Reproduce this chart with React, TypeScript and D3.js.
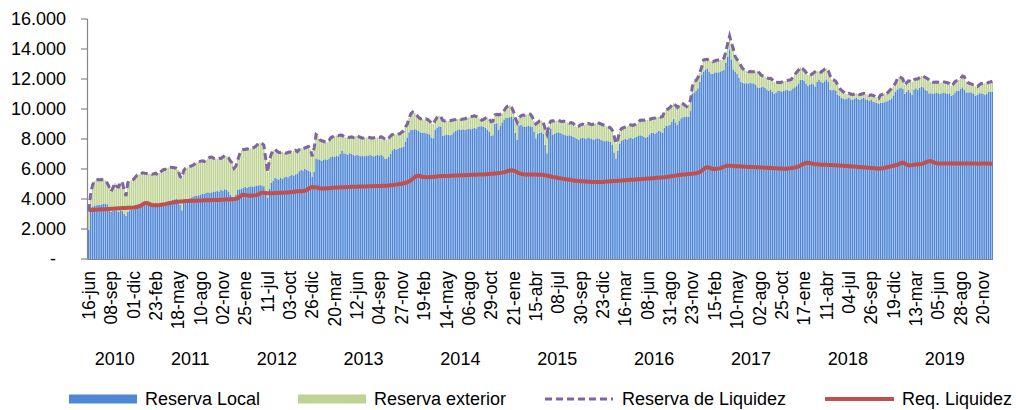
import React from "react";
import * as d3 from "d3";

// weekly series, jun-2010 .. dec-2019 (millions)
const reservaLiquidez = [
  // 2010
  3200, 4300, 4900, 5200, 5250, 5300, 5280, 5300, 5270, 5250, 5050, 4800, 4500, 4750, 5050, 4850, 4800, 5100, 5150, 4600, 4200, 5100, 5200, 5250, 5300, 5450, 5600, 5650, 5700,
  // 2011
  5750, 5720, 5700, 5680, 5700, 5650, 5680, 5720, 5600, 5750, 5850, 5950, 5980, 6080, 6100, 6120, 6100, 6080, 6050, 5950,
  5500, 5400, 5900, 6050, 6100, 6150, 6200, 6250, 6350, 6450, 6500, 6520, 6550, 6500, 6600, 6700, 6780, 6800, 6720, 6700,
  6680, 6720, 6700, 6800, 6900, 6850, 6750, 6550, 6400, 6050, 6200, 6600,
  // 2012
  7000, 7250, 7300, 7300, 7350, 7300, 7350, 7400, 7450, 7550, 7700, 7750, 7700, 7600, 6700, 5800, 6600, 7000, 7250, 7300,
  7200, 7100, 7100, 7150, 7100, 7050, 7100, 7150, 7100, 7200, 7250, 7150, 7300, 7400, 7350, 7400, 7450, 7500, 7300, 6850, 7400,
  // 2013
  8300, 8200, 7950, 7880, 7850, 7800, 7780, 7900, 8100, 8150, 8200, 8250, 8220, 8270, 8250, 8150, 8100, 8120, 8100, 8150,
  8100, 8200, 8220, 8150, 8100, 8050, 8080, 8100, 8120, 8100, 8050, 8080, 8100, 8120, 8100, 8150, 8080, 8000, 7950, 8050,
  8200, 8300, 8330, 8300, 8330, 8350, 8450, 8550, 8800, 9000, 9400, 9700,
  // 2014
  9800, 9750, 9600, 9450, 9350, 9330, 9300, 9350, 9300, 9200, 9050, 9000, 9250, 9450, 9550, 9500, 9250, 9200, 9230, 9200,
  9220, 9250, 9280, 9300, 9330, 9350, 9300, 9330, 9350, 9400, 9450, 9500, 9520, 9550, 9500, 9450, 9350, 9250, 9300, 9400,
  9450, 9350, 9150, 9200, 9600, 9650, 9600, 9650, 9700, 9900, 10100, 10200,
  // 2015
  10250, 10100, 9850, 9400, 9100, 9400, 9550, 9600, 9580, 9620, 9650, 9660, 9500, 9200, 9000, 9100, 9200, 9220, 9100, 8700,
  8350, 8900, 9200, 9220, 9200, 9220, 9250, 9200, 9150, 9200, 9150, 9100, 9050, 9100, 9050, 8900, 8800, 8850, 8950, 9000,
  8950, 9000, 9050, 9000, 8950, 9000, 9050, 9100, 9050, 9000, 8950, 8900,
  // 2016
  8850, 8800, 8750, 8600, 8200, 7700, 8000, 8500, 8700, 8750, 8800, 8850, 8900, 8950, 8900, 8950, 9000, 9100, 9250, 9270,
  9250, 9270, 9280, 9300, 9350, 9380, 9400, 9450, 9480, 9450, 9500, 9800, 9950, 10000, 10100, 10250, 10380, 10250, 10100, 10250,
  10380, 10350, 10250, 10160, 10300, 10600, 11500, 11850, 11900, 12100, 12400, 12800,
  // 2017
  13270, 13300, 13310, 13250, 13200, 13150, 13200, 13250, 13270, 13280, 13270, 13400, 13820, 14380, 14870, 14400, 14000, 13500, 13300, 13150,
  12900, 12700, 12600, 12550, 12490, 12500, 12480, 12490, 12500, 12550, 12400, 12250, 12200, 12150, 12080, 12040, 12050, 11950, 11800, 11760,
  11780, 11760, 11800, 11850, 11870, 11900, 11930, 11950, 12150, 12300, 12450, 12600,
  // 2018
  12780, 12700, 12600, 12450, 12270, 12250, 12300, 12400, 12490, 12550, 12500, 12450, 12550, 12650, 12710, 12550, 12200, 11950, 11930, 11850,
  11600, 11380, 11250, 11150, 11050, 11000, 11050, 11000, 10950, 11000, 11050, 11000, 10950, 11000, 11050, 11000, 10950, 10900, 10950, 10900,
  10850, 10750, 10700, 10930, 10980, 11050, 11000, 11100, 11250, 11380, 11550, 11710,
  // 2019
  12000, 12160, 12100, 12000, 11600, 11750, 11880, 11850, 11800, 11950, 12000, 12000, 12100, 12200, 12200, 12100, 12050, 11950, 11800, 11780,
  11780, 11800, 11780, 11750, 11780, 11800, 11780, 11750, 11700, 11550, 11650, 11820, 11900, 11940, 12050, 12200, 12150, 11850, 11750, 11700,
  11660, 11600, 11500, 11490, 11600, 11700, 11700, 11720, 11700, 11780, 11800, 11850,
];

const reservaLocal = [
  // 2010
  1950, 3450, 3500, 3550, 3580, 3600, 3620, 3650, 3680, 3700, 3650, 3300, 3150, 3200, 3250, 3200, 3150, 3250, 3200, 3000, 2880, 3150, 3250, 3300, 3300, 3350, 3400, 3450, 3500,
  // 2011
  3550, 3600, 3650, 3700, 3700, 3680, 3720, 3750, 3700, 3720, 3650, 3700, 3720, 3800, 3850, 3900, 3950, 3980, 4000, 3900,
  3600, 3250, 3850, 3900, 4000, 4050, 4100, 4150, 4200, 4200, 4250, 4300, 4350, 4350, 4400, 4450, 4400, 4450, 4500, 4500,
  4550, 4500, 4600, 4550, 4650, 4600, 4500, 4300, 4150, 4050, 4300, 4600,
  // 2012
  4650, 4700, 4750, 4800, 4750, 4800, 4850, 4800, 4850, 4900, 4900, 4950, 4900, 4850, 4400, 4100, 4700, 5100, 5200, 5400,
  5350, 5300, 5400, 5350, 5450, 5500, 5450, 5550, 5600, 5550, 5650, 5700, 5850, 5950, 5900, 6000, 5950, 5900, 5800, 5500, 5800,
  // 2013
  6700, 6650, 6600, 6550, 6600, 6650, 6600, 6700, 6800, 6850, 6800, 6900, 6850, 7000, 7200, 7050, 7000, 6950, 7050, 7000,
  6950, 6900, 6950, 6900, 6850, 6900, 6850, 6900, 6880, 6950, 6900, 6850, 6900, 6950, 6900, 6950, 6850, 6700, 6700, 6800,
  7000, 7250, 7350, 7300, 7350, 7400, 7450, 7500, 7800, 8100, 8450, 8600,
  // 2014
  8600, 8650, 8600, 8550, 8450, 8400, 8400, 8380, 8350, 8300, 8100, 8050, 8600, 8750, 8850, 8800, 8200, 8250, 8300, 8280,
  8250, 8300, 8450, 8550, 8600, 8650, 8600, 8650, 8600, 8650, 8700, 8650, 8700, 8750, 8700, 8800, 8850, 8850, 8800, 8750,
  8600, 8500, 8200, 8250, 9000, 9050, 8600, 8900, 9100, 9300, 9400, 9400,
  // 2015
  9450, 9500, 9350, 8400, 7950, 8900, 8950, 8850, 8800, 8850, 8900, 8850, 8800, 8500, 8050, 8350, 8400, 8450, 8350, 7600,
  7050, 8500, 8700, 8300, 8350, 8400, 8450, 8400, 8350, 8300, 8250, 8200, 8250, 8200, 8150, 8100, 8000, 7950, 8050, 8100,
  8050, 8000, 8100, 8050, 8000, 7950, 8000, 8050, 8000, 7950, 7900, 7850,
  // 2016
  7900, 7850, 7800, 7600, 7100, 6700, 7200, 7700, 7900, 7950, 8000, 7950, 8050, 8100, 8000, 8100, 8150, 8200, 8250, 8200,
  8150, 8100, 8150, 8300, 8400, 8420, 8350, 8450, 8550, 8500, 8420, 8750, 8870, 8900, 8930, 9150, 9330, 9100, 8930, 9200,
  9380, 9450, 9490, 9500, 9480, 9900, 11000, 11100, 11200, 11380, 11800, 12300,
  // 2017
  12490, 12600, 12710, 12500, 12330, 12350, 12440, 12450, 12440, 12500, 12550, 12600, 13100, 13500, 13980, 13300, 12640, 12500, 12330, 12100,
  11820, 11750, 11710, 11720, 11700, 11750, 11720, 11710, 11600, 11450, 11420, 11450, 11490, 11400, 11300, 11220, 11300, 11150, 11000, 11100,
  11220, 11200, 11150, 11200, 11250, 11280, 11200, 11250, 11380, 11450, 11530, 11700,
  // 2018
  11930, 11950, 11900, 11700, 11530, 11600, 11700, 11650, 11500, 11800, 11930, 11800, 11750, 11850, 11980, 11800, 11270, 11250, 11300, 11200,
  10950, 10870, 10750, 10700, 10650, 10700, 10750, 10650, 10600, 10700, 10750, 10650, 10600, 10700, 10750, 10650, 10600, 10550, 10600, 10500,
  10450, 10400, 10350, 10420, 10420, 10450, 10500, 10530, 10600, 10710, 10900, 11150,
  // 2019
  11300, 11380, 11400, 11350, 11000, 11150, 11270, 11100, 10930, 11300, 11380, 11300, 11400, 11490, 11450, 11300, 11200, 11050, 11050, 11000,
  11050, 11100, 11050, 11000, 11050, 11100, 11050, 11000, 11050, 10870, 10950, 11100, 11200, 11220, 11350, 11450, 11300, 11110, 11100, 11120,
  11100, 11000, 10870, 10950, 11050, 11050, 11000, 10930, 11000, 11150, 11160, 11150,
];

const reqLiquidez = [
  // 2010
  3250, 3260, 3270, 3280, 3290, 3300, 3300, 3310, 3320, 3320, 3330, 3340, 3350, 3350, 3360, 3370, 3380, 3390, 3400, 3400, 3400, 3410, 3420, 3420, 3430, 3450, 3480, 3520, 3560,
  // 2011
  3650, 3720, 3740, 3700, 3640, 3600, 3580, 3580, 3590, 3600, 3620, 3640, 3660, 3690, 3720, 3740, 3760, 3780, 3800, 3820,
  3830, 3840, 3850, 3860, 3860, 3870, 3880, 3880, 3890, 3890, 3900, 3900, 3900, 3910, 3910, 3920, 3920, 3930, 3930, 3930,
  3940, 3940, 3950, 3950, 3960, 3960, 3970, 3980, 3990, 4000, 4020, 4050,
  // 2012
  4150, 4250, 4280, 4260, 4240, 4220, 4220, 4230, 4240, 4260, 4300, 4380, 4420, 4410, 4400, 4390, 4380, 4380, 4390, 4400,
  4400, 4410, 4410, 4420, 4420, 4430, 4440, 4450, 4460, 4480, 4500, 4510, 4520, 4520, 4530, 4550, 4600, 4680, 4760, 4800, 4780,
  // 2013
  4780, 4750, 4720, 4700, 4700, 4700, 4710, 4720, 4740, 4750, 4760, 4760, 4770, 4780, 4780, 4790, 4790, 4800, 4800, 4810,
  4810, 4820, 4820, 4830, 4830, 4830, 4840, 4840, 4850, 4850, 4850, 4860, 4860, 4860, 4870, 4870, 4880, 4880, 4890, 4900,
  4910, 4920, 4940, 4960, 4980, 5000, 5020, 5050, 5080, 5120, 5180, 5260,
  // 2014
  5350, 5450, 5530, 5550, 5520, 5480, 5460, 5450, 5450, 5460, 5470, 5480, 5490, 5500, 5510, 5520, 5530, 5530, 5540, 5540,
  5550, 5550, 5560, 5560, 5570, 5580, 5580, 5590, 5590, 5600, 5600, 5610, 5610, 5620, 5620, 5630, 5630, 5640, 5640, 5650,
  5660, 5670, 5680, 5690, 5700, 5710, 5720, 5740, 5760, 5790, 5830, 5870,
  // 2015
  5900, 5920, 5900, 5850, 5780, 5720, 5680, 5650, 5640, 5630, 5630, 5630, 5640, 5640, 5630, 5620, 5620, 5610, 5600, 5580,
  5560, 5530, 5500, 5470, 5450, 5430, 5400, 5380, 5360, 5340, 5320, 5300, 5280, 5260, 5240, 5220, 5210, 5200, 5190, 5180,
  5170, 5160, 5150, 5150, 5140, 5140, 5130, 5130, 5130, 5130, 5140, 5150,
  // 2016
  5160, 5170, 5180, 5190, 5200, 5200, 5210, 5220, 5230, 5240, 5250, 5260, 5270, 5280, 5290, 5300, 5300, 5310, 5320, 5330,
  5340, 5350, 5360, 5370, 5380, 5390, 5400, 5410, 5420, 5430, 5440, 5450, 5460, 5480, 5500, 5520, 5540, 5560, 5580, 5600,
  5620, 5630, 5640, 5650, 5660, 5670, 5680, 5700, 5720, 5750, 5800, 5880,
  // 2017
  5980, 6080, 6120, 6100, 6040, 6000, 6000, 6010, 6030, 6060, 6100, 6150, 6200, 6220, 6220, 6210, 6200, 6190, 6180, 6180,
  6170, 6160, 6150, 6150, 6140, 6140, 6130, 6130, 6120, 6120, 6110, 6100, 6100, 6090, 6080, 6070, 6060, 6060, 6050, 6050,
  6040, 6030, 6030, 6020, 6020, 6030, 6040, 6060, 6080, 6100, 6130, 6170,
  // 2018
  6230, 6300, 6360, 6400, 6420, 6400, 6370, 6340, 6320, 6310, 6300, 6290, 6290, 6280, 6280, 6270, 6270, 6260, 6250, 6250,
  6240, 6230, 6220, 6210, 6200, 6200, 6190, 6180, 6170, 6160, 6150, 6140, 6130, 6120, 6110, 6100, 6090, 6080, 6070, 6060,
  6050, 6040, 6040, 6040, 6050, 6070, 6100, 6130, 6160, 6190, 6220, 6250,
  // 2019
  6280, 6330, 6400, 6420, 6380, 6300, 6250, 6240, 6260, 6280, 6300, 6310, 6320, 6340, 6370, 6420, 6470, 6520, 6530, 6480,
  6420, 6390, 6370, 6360, 6360, 6360, 6360, 6370, 6370, 6370, 6360, 6360, 6360, 6370, 6370, 6360, 6360, 6360, 6360, 6370,
  6370, 6360, 6360, 6350, 6350, 6360, 6360, 6370, 6360, 6360, 6350, 6350,
];

// one label every 12 weeks
const tickLabels = [
  "16-jun", "08-sep", "01-dic", "23-feb", "18-may", "10-ago", "02-nov", "25-ene", "11-jul", "03-oct",
  "26-dic", "20-mar", "12-jun", "04-sep", "27-nov", "19-feb", "14-may", "06-ago", "29-oct", "21-ene",
  "15-abr", "08-jul", "30-sep", "23-dic", "16-mar", "08-jun", "31-ago", "23-nov", "15-feb", "10-may",
  "02-ago", "25-oct", "17-ene", "11-abr", "04-jul", "26-sep", "19-dic", "13-mar", "05-jun", "28-ago",
  "20-nov",
];
const tickEvery = 12;

const years = ["2010", "2011", "2012", "2013", "2014", "2015", "2016", "2017", "2018", "2019"];
const weeksPerYear = [29, 52, 41, 52, 52, 52, 52, 52, 52, 52];

const yTicks = [0, 2000, 4000, 6000, 8000, 10000, 12000, 14000, 16000];

const W = 1016;
const H = 410;
const FONT = "'Liberation Sans', Arial, Helvetica, sans-serif";
const BLUE = "#4F86D6";
const GREEN = "#BFD494";
const PURPLE = "#8064A2";
const RED = "#C0504D";
const AXIS = "#868686";

export default function App() {
  const n = reservaLiquidez.length;
  const idx = d3.range(n);

  const x = d3.scaleBand<number>().domain(idx).range([88, 993]).paddingInner(0.22);
  const y = d3.scaleLinear().domain([0, 16000]).range([259, 19]);
  const bw = x.bandwidth();
  const cx = (i: number) => (x(i) as number) + bw / 2;

  const fmt = (v: number) => (v === 0 ? "-" : d3.format(",")(v).replace(/,/g, "."));

  const lineTotal = d3.line<number>().x(cx).y((i) => y(reservaLiquidez[i]));
  const lineReq = d3.line<number>().x(cx).y((i) => y(reqLiquidez[i]));

  // year group spans
  let start = 0;
  const yearSpans = years.map((yr, k) => {
    const s = start;
    start += weeksPerYear[k];
    return { yr, s, e: start - 1 };
  });

  return (
    <div style={{ position: "absolute", left: 0, top: 0 }}>
      <svg width={W} height={H} style={{ display: "block", background: "#fff" }} fontFamily={FONT}>
        {/* bars */}
        <g>
          {idx.map((i) => (
            <rect key={"l" + i} x={x(i)} width={bw} y={y(reservaLocal[i])} height={y(0) - y(reservaLocal[i])} fill={BLUE} />
          ))}
          {idx.map((i) => (
            <rect
              key={"e" + i}
              x={x(i)}
              width={bw}
              y={y(reservaLiquidez[i])}
              height={Math.max(0, y(reservaLocal[i]) - y(reservaLiquidez[i]))}
              fill={GREEN}
            />
          ))}
        </g>

        {/* axes */}
        <line x1={87.5} x2={87.5} y1={19} y2={259.5} stroke={AXIS} strokeWidth={1.2} />
        <line x1={87.5} x2={993} y1={259.5} y2={259.5} stroke={AXIS} strokeWidth={1} />
        {yTicks.map((t) => (
          <g key={t}>
            <line x1={81} x2={87.5} y1={y(t)} y2={y(t)} stroke={AXIS} strokeWidth={1.2} />
            <text
              x={t === 0 ? 56 : 66}
              y={y(t)}
              dy="0.35em"
              textAnchor="end"
              fontSize={18}
              fill="#000"
            >
              {fmt(t)}
            </text>
          </g>
        ))}

        {/* lines */}
        <path d={lineReq(idx) || ""} fill="none" stroke={RED} strokeWidth={4} strokeLinejoin="round" />
        <path d={lineTotal(idx) || ""} fill="none" stroke={PURPLE} strokeWidth={3} strokeDasharray="7,4" />

        {/* x labels */}
        {tickLabels.map((lab, k) => {
          const px = cx(k * tickEvery);
          return (
            <text
              key={lab + k}
              transform={`translate(${px},271) rotate(-90)`}
              dy="0.35em"
              textAnchor="end"
              fontSize={17.5}
              fill="#000"
            >
              {lab}
            </text>
          );
        })}
        {yearSpans.map((d) => (
          <text key={d.yr} x={(cx(d.s) + cx(d.e)) / 2} y={365} textAnchor="middle" fontSize={18} fill="#000">
            {d.yr}
          </text>
        ))}

        {/* legend */}
        <g fontSize={18} fill="#000">
          <rect x={69} y={394.5} width={68} height={9} fill={BLUE} />
          <text x={145} y={399} dy="0.35em">Reserva Local</text>
          <rect x={298} y={394.5} width={68} height={9} fill={GREEN} />
          <text x={374} y={399} dy="0.35em">Reserva exterior</text>
          <line x1={545} x2={613} y1={399} y2={399} stroke={PURPLE} strokeWidth={3} strokeDasharray="7,4" />
          <text x={622} y={399} dy="0.35em">Reserva de Liquidez</text>
          <line x1={825} x2={894} y1={399} y2={399} stroke={RED} strokeWidth={4} />
          <text x={902} y={399} dy="0.35em">Req. Liquidez</text>
        </g>
      </svg>
    </div>
  );
}
